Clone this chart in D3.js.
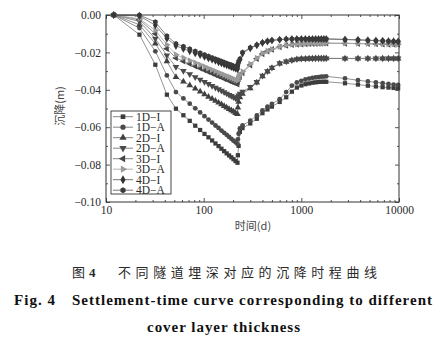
<!DOCTYPE html>
<html><head><meta charset="utf-8">
<script src="https://cdn.jsdelivr.net/npm/d3@7"></script>
<style>html,body{margin:0;padding:0;background:#fff;}</style>
</head><body>
<script>
const days = [12,22,32,42,52,62,72,82,92,102,112,122,132,142,152,162,172,182,192,202,212,222,
  224,228,235,250,300,350,400,450,500,600,700,800,900,1000,1100,1200,1300,1400,1500,1600,1700,1800,
  2800,3800,4800,5800,6800,7800,8800,9800];

const s1DI = [0,-0.0105,-0.0266,-0.0426,-0.0501,-0.0536,-0.0566,-0.0592,-0.0615,-0.0636,-0.0654,-0.0671,-0.0687,-0.0701,-0.0715,-0.0728,-0.0740,-0.0751,-0.0761,-0.0771,-0.0781,-0.0790,
  -0.0750,-0.0700,-0.0625,-0.0605,-0.0580,-0.0555,-0.0525,-0.0505,-0.0490,-0.0465,-0.0440,-0.0410,-0.0388,-0.0377,-0.0370,-0.0366,-0.0362,-0.0360,-0.0358,-0.0357,-0.0357,-0.0357,
  -0.0365,-0.0372,-0.0378,-0.0382,-0.0386,-0.0388,-0.0390,-0.0392];
const s1DA = [0,-0.0070,-0.0194,-0.0323,-0.0412,-0.0446,-0.0474,-0.0499,-0.0521,-0.0541,-0.0559,-0.0575,-0.0591,-0.0604,-0.0618,-0.0630,-0.0641,-0.0652,-0.0662,-0.0672,-0.0681,-0.0690,
  -0.0665,-0.0635,-0.0606,-0.0590,-0.0565,-0.0537,-0.0510,-0.0490,-0.0476,-0.0450,-0.0412,-0.0378,-0.0361,-0.0352,-0.0345,-0.0340,-0.0336,-0.0334,-0.0332,-0.0330,-0.0329,-0.0328,
  -0.0339,-0.0349,-0.0355,-0.0360,-0.0365,-0.0369,-0.0372,-0.0374];
const s2DI = [0,-0.0052,-0.0153,-0.0248,-0.0332,-0.0356,-0.0376,-0.0394,-0.0410,-0.0424,-0.0437,-0.0448,-0.0459,-0.0469,-0.0478,-0.0487,-0.0495,-0.0503,-0.0510,-0.0517,-0.0524,-0.0530,
  -0.0495,-0.0465,-0.0440,-0.0422,-0.0392,-0.0362,-0.0328,-0.0302,-0.0284,-0.0260,-0.0250,-0.0243,-0.0237,-0.0235,-0.0234,-0.0233,-0.0233,-0.0232,-0.0232,-0.0232,-0.0232,-0.0232,
  -0.0233,-0.0233,-0.0233,-0.0233,-0.0233,-0.0233,-0.0233,-0.0233];
const s2DA = [0,-0.0034,-0.0127,-0.0216,-0.0278,-0.0299,-0.0316,-0.0332,-0.0346,-0.0358,-0.0369,-0.0379,-0.0389,-0.0397,-0.0405,-0.0413,-0.0420,-0.0427,-0.0433,-0.0439,-0.0445,-0.0450,
  -0.0440,-0.0430,-0.0420,-0.0410,-0.0385,-0.0358,-0.0325,-0.0300,-0.0282,-0.0258,-0.0248,-0.0241,-0.0236,-0.0234,-0.0233,-0.0232,-0.0232,-0.0232,-0.0232,-0.0232,-0.0232,-0.0232,
  -0.0232,-0.0232,-0.0232,-0.0232,-0.0232,-0.0232,-0.0232,-0.0232];
const s3DI = [0,-0.0025,-0.0100,-0.0180,-0.0230,-0.0247,-0.0261,-0.0274,-0.0285,-0.0295,-0.0304,-0.0312,-0.0320,-0.0327,-0.0333,-0.0340,-0.0345,-0.0351,-0.0356,-0.0361,-0.0365,-0.0370,
  -0.0355,-0.0342,-0.0330,-0.0310,-0.0268,-0.0234,-0.0208,-0.0194,-0.0184,-0.0171,-0.0163,-0.0159,-0.0157,-0.0156,-0.0155,-0.0154,-0.0153,-0.0153,-0.0152,-0.0152,-0.0151,-0.0151,
  -0.0152,-0.0153,-0.0154,-0.0155,-0.0156,-0.0157,-0.0157,-0.0158];
const s3DA = [0,-0.0020,-0.0082,-0.0159,-0.0212,-0.0229,-0.0243,-0.0255,-0.0266,-0.0276,-0.0285,-0.0293,-0.0301,-0.0308,-0.0314,-0.0320,-0.0326,-0.0331,-0.0336,-0.0341,-0.0346,-0.0350,
  -0.0338,-0.0328,-0.0318,-0.0302,-0.0262,-0.0230,-0.0205,-0.0192,-0.0183,-0.0170,-0.0162,-0.0158,-0.0156,-0.0155,-0.0154,-0.0153,-0.0152,-0.0152,-0.0151,-0.0151,-0.0150,-0.0150,
  -0.0151,-0.0152,-0.0153,-0.0154,-0.0155,-0.0156,-0.0156,-0.0157];
const s4DI = [0,-0.0005,-0.0055,-0.0125,-0.0165,-0.0180,-0.0193,-0.0204,-0.0214,-0.0223,-0.0231,-0.0238,-0.0245,-0.0252,-0.0258,-0.0263,-0.0268,-0.0273,-0.0278,-0.0282,-0.0286,-0.0290,
  -0.0272,-0.0256,-0.0240,-0.0205,-0.0178,-0.0162,-0.0149,-0.0141,-0.0136,-0.0132,-0.0130,-0.0129,-0.0129,-0.0128,-0.0128,-0.0128,-0.0128,-0.0128,-0.0128,-0.0128,-0.0128,-0.0128,
  -0.0131,-0.0133,-0.0135,-0.0137,-0.0138,-0.0140,-0.0141,-0.0142];
const s4DA = [0,0,-0.0037,-0.0112,-0.0153,-0.0168,-0.0181,-0.0193,-0.0203,-0.0212,-0.0220,-0.0228,-0.0235,-0.0241,-0.0247,-0.0253,-0.0258,-0.0263,-0.0267,-0.0272,-0.0276,-0.0280,
  -0.0262,-0.0248,-0.0235,-0.0200,-0.0175,-0.0160,-0.0147,-0.0140,-0.0135,-0.0131,-0.0129,-0.0128,-0.0128,-0.0128,-0.0128,-0.0128,-0.0128,-0.0128,-0.0128,-0.0128,-0.0128,-0.0128,
  -0.0131,-0.0133,-0.0135,-0.0137,-0.0138,-0.0140,-0.0141,-0.0142];

const seriesNames = ["1D−I","1D−A","2D−I","2D−A","3D−I","3D−A","4D−I","4D−A"];
const seriesValues = [s1DI,s1DA,s2DI,s2DA,s3DI,s3DA,s4DI,s4DA];

const yTicks = [0,-0.02,-0.04,-0.06,-0.08,-0.10];
const yTickLabels = ["0.00","−0.02","−0.04","−0.06","−0.08","−0.10"];
const yMinorTicks = [-0.01,-0.03,-0.05,-0.07,-0.09];
const xTicks = [10,100,1000,10000];
const xTickLabels = ["10","100","1000","10000"];
const xMinorTicks = [20,30,40,50,60,70,80,90,200,300,400,500,600,700,800,900,2000,3000,4000,5000,6000,7000,8000,9000];

const xTitle = "时间(d)";
const yTitle = "沉降(m)";
const cap1a = "图", cap1b = "4", cap1c = "不同隧道埋深对应的沉降时程曲线";
const cap2a = "Fig. 4", cap2b = "Settlement-time curve corresponding to different", cap3 = "cover layer thickness";

// ---------- drawing ----------
const W = 440, H = 348;
const L = 106, R = 399, T = 15, B = 202;
const serif = "'Liberation Serif','DejaVu Serif',serif";
const cjk = "'Noto Sans CJK SC','Noto Sans',sans-serif";
const ink = "#2a2a2a";

const svg = d3.select("body").append("svg").attr("width", W).attr("height", H);
svg.append("rect").attr("width", W).attr("height", H).attr("fill", "#fff");

const x = d3.scaleLog().domain([10, 10000]).range([L, R]);
const y = d3.scaleLinear().domain([-0.10, 0]).range([B, T]);

function styleAxis(g){
  g.select(".domain").remove();
  g.selectAll("line").attr("stroke", ink).attr("stroke-width", 0.8);
  g.selectAll("text").attr("fill", ink).attr("font-family", serif).attr("font-size", 11.5);
}

// left
svg.append("g").attr("transform",`translate(${L},0)`)
  .call(d3.axisLeft(y).tickValues(yTicks).tickSizeInner(-4).tickSizeOuter(0).tickPadding(5)
    .tickFormat((d,i)=>yTickLabels[i])).call(styleAxis);
svg.append("g").attr("transform",`translate(${L},0)`)
  .call(d3.axisLeft(y).tickValues(yMinorTicks).tickSizeInner(-2).tickSizeOuter(0).tickFormat(""))
  .call(styleAxis);
// right
svg.append("g").attr("transform",`translate(${R},0)`)
  .call(d3.axisRight(y).tickValues(yTicks).tickSizeInner(-4).tickSizeOuter(0).tickFormat(""))
  .call(styleAxis);
svg.append("g").attr("transform",`translate(${R},0)`)
  .call(d3.axisRight(y).tickValues(yMinorTicks).tickSizeInner(-2).tickSizeOuter(0).tickFormat(""))
  .call(styleAxis);
// bottom
svg.append("g").attr("transform",`translate(0,${B})`)
  .call(d3.axisBottom(x).tickValues(xTicks).tickSizeInner(-4).tickSizeOuter(0).tickPadding(4)
    .tickFormat((d,i)=>xTickLabels[i])).call(styleAxis);
svg.append("g").attr("transform",`translate(0,${B})`)
  .call(d3.axisBottom(x).tickValues(xMinorTicks).tickSizeInner(-2).tickSizeOuter(0).tickFormat(""))
  .call(styleAxis);
// top
svg.append("g").attr("transform",`translate(0,${T})`)
  .call(d3.axisTop(x).tickValues(xTicks).tickSizeInner(-4).tickSizeOuter(0).tickFormat(""))
  .call(styleAxis);
svg.append("g").attr("transform",`translate(0,${T})`)
  .call(d3.axisTop(x).tickValues(xMinorTicks).tickSizeInner(-2).tickSizeOuter(0).tickFormat(""))
  .call(styleAxis);

// markers
const hexagon = { draw(ctx, size){ const r = Math.sqrt(size/2.6);
  for(let k=0;k<6;k++){ const a = Math.PI/6 + k*Math.PI/3; const px=r*Math.cos(a), py=r*Math.sin(a);
    if(k===0) ctx.moveTo(px,py); else ctx.lineTo(px,py);} ctx.closePath(); } };
const markerDefs = [
  {type:d3.symbolSquare, rot:0, size:18},
  {type:d3.symbolCircle, rot:0, size:18},
  {type:d3.symbolTriangle, rot:0, size:19},
  {type:d3.symbolTriangle, rot:180, size:19},
  {type:d3.symbolTriangle, rot:-90, size:19},
  {type:d3.symbolTriangle, rot:90, size:19},
  {type:d3.symbolDiamond, rot:0, size:19},
  {type:hexagon, rot:0, size:19}
];
const markColor = ["#3c3c3c","#4a4a4a","#404040","#4a4a4a","#454545","#9a9a9a","#333","#3a3a3a"];
const lineColor = ["#777","#777","#777","#777","#777","#aaa","#666","#6a6a6a"];

const line = d3.line().x(d=>x(d.t)).y(d=>y(d.v));
const plot = svg.append("g");
seriesValues.forEach((vals,i)=>{
  const pts = days.map((t,j)=>({t, v: vals[j]}));
  const g = plot.append("g");
  g.append("path").datum(pts).attr("d", line).attr("fill","none")
    .attr("stroke", lineColor[i]).attr("stroke-width", 0.8);
  const sym = d3.symbol().type(markerDefs[i].type).size(markerDefs[i].size);
  g.selectAll("path.m").data(pts).join("path").attr("class","m")
    .attr("d", sym)
    .attr("transform", d=>`translate(${x(d.t)},${y(d.v)}) rotate(${markerDefs[i].rot})`)
    .attr("fill", markColor[i]);
});

// frame
svg.append("rect").attr("x",L).attr("y",T).attr("width",R-L).attr("height",B-T)
  .attr("fill","none").attr("stroke","#333").attr("stroke-width",1);

// legend
const lg = svg.append("g");
lg.append("rect").attr("x",111).attr("y",111).attr("width",60).attr("height",83)
  .attr("fill","#fff").attr("stroke","#333").attr("stroke-width",0.9);
seriesNames.forEach((name,i)=>{
  const yy = 116.7 + i*10.5;
  lg.append("line").attr("x1",113).attr("x2",133).attr("y1",yy).attr("y2",yy)
    .attr("stroke", lineColor[i]).attr("stroke-width",0.9);
  lg.append("path").attr("d", d3.symbol().type(markerDefs[i].type).size(markerDefs[i].size*1.2)())
    .attr("transform",`translate(123,${yy}) rotate(${markerDefs[i].rot})`).attr("fill", markColor[i]);
  lg.append("text").attr("x",136).attr("y",yy).attr("dy","0.35em").text(name)
    .attr("font-family",serif).attr("font-size",11.5).attr("fill",ink);
});

// axis titles
svg.append("text").attr("x",253).attr("y",230).attr("text-anchor","middle")
  .attr("font-family",cjk).attr("font-size",11).attr("fill","#444").text(xTitle);
svg.append("text").attr("transform","translate(64,106) rotate(-90)").attr("text-anchor","middle")
  .attr("font-family",cjk).attr("font-size",11).attr("fill","#444").text(yTitle);

// caption
svg.append("text").attr("x",72).attr("y",277).attr("font-family",cjk).attr("font-size",13).attr("fill",ink).text(cap1a);
svg.append("text").attr("x",89).attr("y",277).attr("font-family",serif).attr("font-weight","bold").attr("font-size",13).attr("fill",ink).text(cap1b);
svg.append("text").attr("x",118).attr("y",277).attr("font-family",cjk).attr("font-size",13)
  .attr("textLength",259).attr("lengthAdjust","spacing").attr("fill",ink).text(cap1c);
svg.append("text").attr("x",14).attr("y",305).attr("font-family",serif).attr("font-weight","bold").attr("font-size",15)
  .attr("textLength",41).attr("lengthAdjust","spacing").attr("fill","#111").text(cap2a);
svg.append("text").attr("x",72).attr("y",305).attr("font-family",serif).attr("font-weight","bold").attr("font-size",15)
  .attr("textLength",360).attr("lengthAdjust","spacing").attr("fill","#111").text(cap2b);
svg.append("text").attr("x",147).attr("y",332).attr("font-family",serif).attr("font-weight","bold").attr("font-size",15)
  .attr("textLength",153).attr("lengthAdjust","spacing").attr("fill","#111").text(cap3);
</script>
</body></html>
